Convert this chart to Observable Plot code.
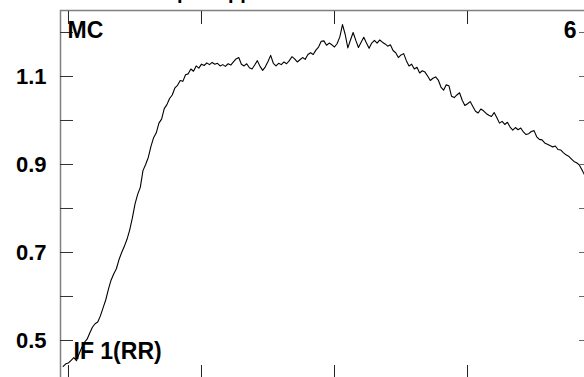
<!DOCTYPE html>
<html><head><meta charset="utf-8">
<script src="https://cdn.jsdelivr.net/npm/d3@7"></script>
<script src="https://cdn.jsdelivr.net/npm/@observablehq/plot@0.6"></script>
<style>
body{margin:0;background:#fff;}
#wrap{position:relative;width:584px;height:377px;overflow:hidden;font-family:"Liberation Sans",Arial,sans-serif;background:#fff;}
#chart{position:absolute;left:0;top:0;width:591px;}
#title{position:absolute;top:-18px;right:297px;font-weight:bold;font-size:20px;line-height:20px;white-space:nowrap;color:#000;}
</style></head><body>
<div id="wrap"><div id="chart"></div><div id="title">Individual channel shapes applied</div></div>
<script>
// Sample positions (x) and ratio values (y)
const xs = [
-4,-2,0,2,4,6,8,10,12,14,
16,18,20,22,24,26,28,30,32,34,
36,38,40,42,44,46,48,50,52,54,
56,58,60,62,64,66,68,70,72,74,
76,78,80,82,84,86,88,90,92,94,
96,98,100,102,104,106,108,110,112,114,
116,118,120,122,124,126,128,130,132,134,
136,138,140,142,144,146,148,150,152,154,
156,158,160,162,164,166,168,170,172,174,
176,178,180,182,184,186,188,190,192,194,
196,198,200,202,204,206,208,210,212,214,
216,218,220,222,224,226,228,230,232,234,
236,238,240,242,244,246,248,250,252,254,
256,258,260,262,264,266,268,270,272,274,
276,278,280,282,284,286,288,290,292,294,
296,298,300,302,304,306,308,310,312,314,
316,318,320,322,324,326,328,330,332,334,
336,338,340,342,344,346,348,350,352,354,
356,358,360,362,364,366,368,370,372,374,
376,378,380,382,384,386,388,390,392];
const ys = [
0.441,0.447,0.449,0.455,0.461,0.454,0.470,0.484,0.496,0.503,
0.517,0.530,0.538,0.542,0.556,0.574,0.592,0.616,0.637,0.651,
0.663,0.684,0.700,0.714,0.730,0.751,0.778,0.810,0.832,0.848,
0.886,0.900,0.916,0.941,0.961,0.972,0.994,1.003,1.027,1.036,
1.050,1.058,1.074,1.080,1.091,1.089,1.104,1.106,1.117,1.112,
1.124,1.119,1.128,1.125,1.131,1.127,1.132,1.128,1.130,1.124,
1.127,1.123,1.129,1.126,1.133,1.140,1.143,1.128,1.124,1.129,
1.120,1.117,1.126,1.136,1.123,1.114,1.122,1.134,1.148,1.130,
1.124,1.130,1.127,1.133,1.129,1.136,1.145,1.140,1.133,1.138,
1.143,1.139,1.150,1.154,1.150,1.160,1.167,1.180,1.181,1.171,
1.176,1.172,1.167,1.175,1.190,1.218,1.196,1.165,1.183,1.200,
1.182,1.166,1.178,1.189,1.176,1.164,1.176,1.182,1.176,1.183,
1.178,1.174,1.169,1.172,1.159,1.154,1.143,1.149,1.152,1.136,
1.124,1.128,1.117,1.121,1.108,1.113,1.110,1.101,1.091,1.096,
1.099,1.092,1.076,1.069,1.081,1.079,1.055,1.052,1.058,1.063,
1.046,1.034,1.038,1.043,1.032,1.021,1.017,1.026,1.022,1.016,
1.012,1.009,1.018,1.007,0.994,0.998,0.991,0.996,0.985,0.978,
0.984,0.979,0.983,0.974,0.968,0.970,0.975,0.977,0.963,0.957,
0.956,0.949,0.946,0.943,0.940,0.942,0.934,0.933,0.927,0.922,
0.919,0.913,0.907,0.904,0.899,0.888,0.876,0.872,0.868];
const yTicks = [0.5,0.6,0.7,0.8,0.9,1.0,1.1,1.2];
const yLabels = [0.5,0.7,0.9,1.1];
const xTicks = [0,100,200,300];
const cornerLabels = {topLeft: "MC", topRight: "6", bottomLeft: "IF 1(RR)"};

const data = xs.map((x, i) => ({x, y: ys[i]}));
const font = "'Liberation Sans', Arial, sans-serif";

const chart = Plot.plot({
  width: 591, height: 378,
  marginLeft: 60, marginRight: 0, marginTop: 10, marginBottom: 0,
  x: {domain: [-6, 393.2]},
  y: {domain: [0.4136, 1.25]},
  style: {fontFamily: font, background: "white", maxWidth: "none", overflow: "visible"},
  marks: [
    Plot.frame({stroke: "#808080", strokeWidth: 1.5}),
    Plot.line(data, {x: "x", y: "y", stroke: "black", strokeWidth: 1.1, clip: true}),
    Plot.axisY(yTicks, {anchor: "left", tickSize: 13, dx: 13, fill: "none", stroke: "#333", label: null}),
    Plot.axisY(yTicks, {anchor: "right", tickSize: 13, dx: -13, fill: "none", stroke: "#666", label: null}),
    Plot.axisX(xTicks, {anchor: "top", tickSize: 13, dy: 13, fill: "none", stroke: "#222", label: null}),
    Plot.axisX(xTicks, {anchor: "bottom", tickSize: 13, dy: -13, fill: "none", stroke: "#222", label: null}),
    Plot.axisY(yLabels, {anchor: "left", tickSize: 0, tickPadding: 14, tickFormat: d3.format(".1f"), fontSize: 22, fontWeight: "bold", fill: "black", label: null}),
    Plot.text([cornerLabels.topLeft], {text: d => d, frameAnchor: "top-left", dx: 7, dy: 27, lineAnchor: "bottom", textAnchor: "start", fontSize: 23, fontWeight: "bold", fill: "black"}),
    Plot.text([cornerLabels.topRight], {text: d => d, frameAnchor: "top-right", dx: -15, dy: 27, lineAnchor: "bottom", textAnchor: "end", fontSize: 23, fontWeight: "bold", fill: "black"}),
    Plot.text([cornerLabels.bottomLeft], {text: d => d, frameAnchor: "bottom-left", dx: 13, dy: -20, lineAnchor: "bottom", textAnchor: "start", fontSize: 23, fontWeight: "bold", fill: "black"})
  ]
});
document.getElementById("chart").appendChild(chart);
</script>
</body></html>
